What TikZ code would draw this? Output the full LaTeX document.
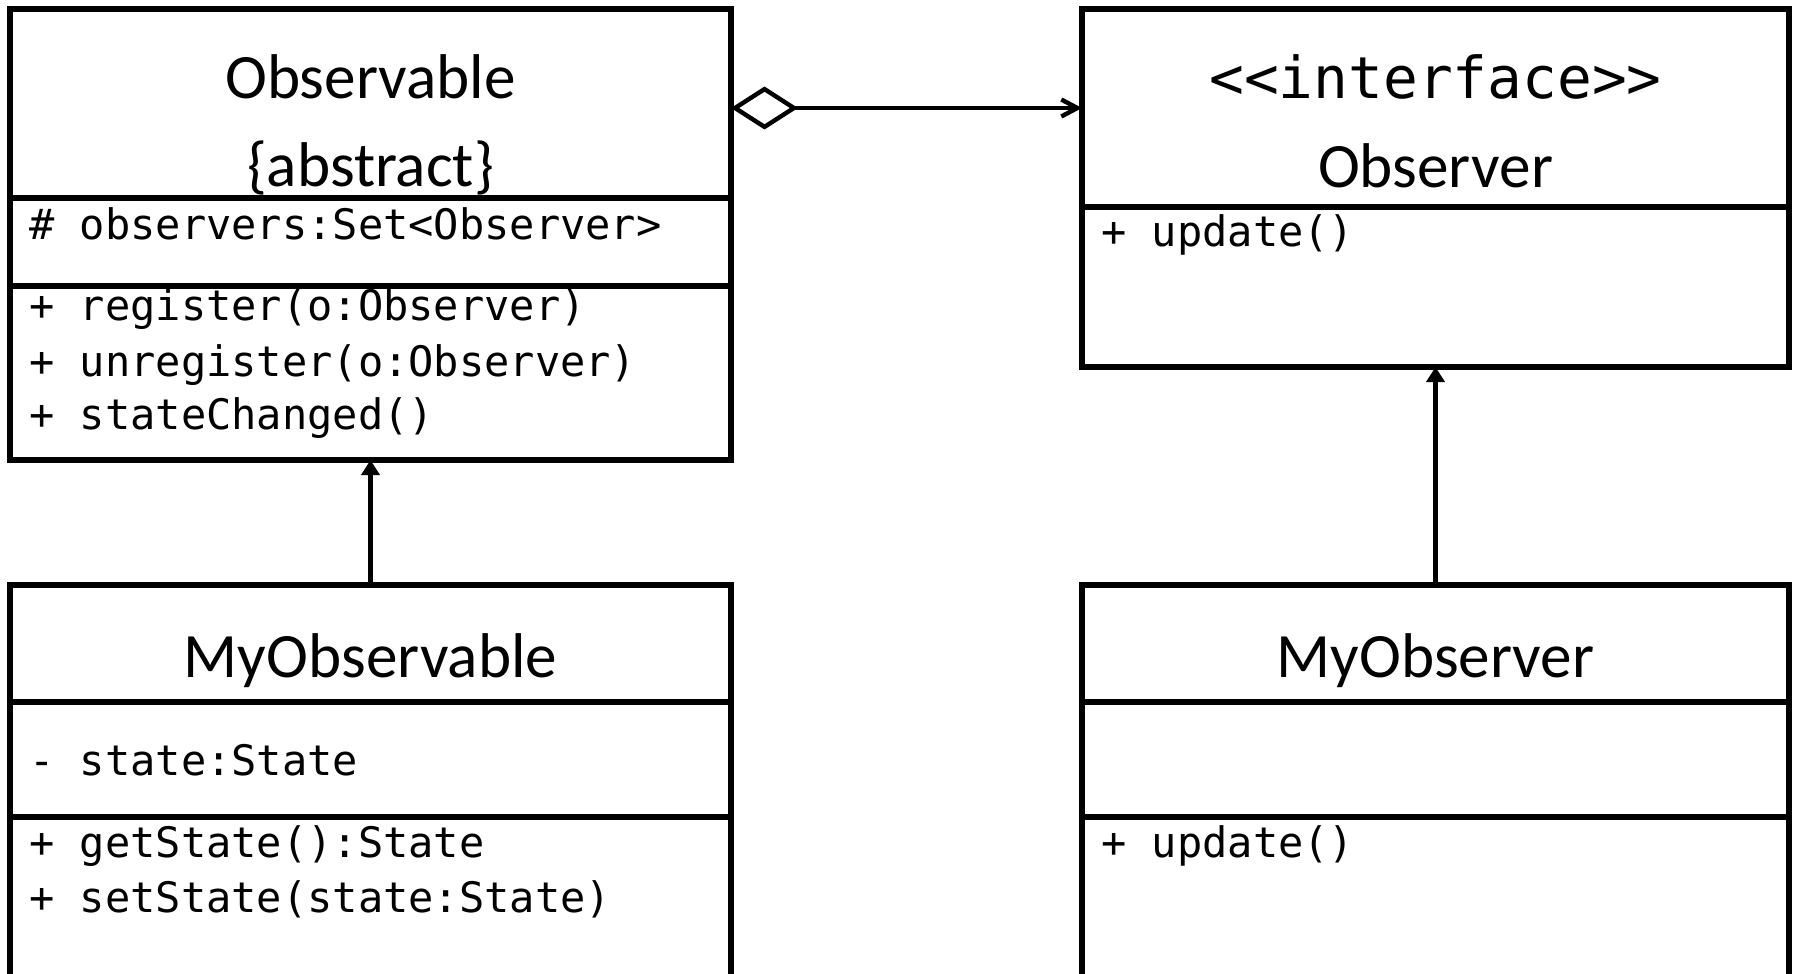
\documentclass[tikz,border=0pt]{standalone}
\usepackage{fontspec}
\setmainfont{Carlito}
\setmonofont{DejaVu Sans Mono}
\usetikzlibrary{arrows.meta}
\usetikzlibrary{fit}

\tikzset{
  classbox/.style={draw, line width=2.6pt, inner sep=0pt, outer sep=0pt},
  divider/.style={line width=2.6pt},
  classname/.style={anchor=base, inner sep=0pt, font=\fontsize{31.6}{38}\selectfont},
  stereotype/.style={anchor=base, inner sep=0pt, font=\fontsize{28.9}{35}\selectfont\ttfamily},
  member/.style={anchor=base west, inner sep=0pt, font=\fontsize{21}{25}\selectfont\ttfamily},
  aggregation/.style={line width=2.2pt, {Diamond[open,length=33.5pt,width=21.5pt]}-{Straight Barb[length=8pt,width=8.5pt]}},
  generalization/.style={line width=2.6pt, -{Triangle[length=7.5pt,width=9pt]}},
}

\begin{document}
\begin{tikzpicture}[x=0.5pt,y=0.5pt,yscale=-1,xscale=1]
\useasboundingbox (0,0) rectangle (1799,974);
\clip (0,0) rectangle (1799,974);

% class boxes
\node[classbox, fit={(10,9) (731,460)}] (observable) {};
\node[classbox, fit={(1082,9) (1789,367)}] (observer) {};
\node[classbox, fit={(10,585) (731,1010)}] (myobservable) {};
\node[classbox, fit={(1082,585) (1789,1010)}] (myobserver) {};

% compartments
\draw[divider] (observable.west |- 0,198) -- (observable.east |- 0,198);
\draw[divider] (observable.west |- 0,286) -- (observable.east |- 0,286);
\draw[divider] (observer.west |- 0,207) -- (observer.east |- 0,207);
\draw[divider] (myobservable.west |- 0,702) -- (myobservable.east |- 0,702);
\draw[divider] (myobservable.west |- 0,817) -- (myobservable.east |- 0,817);
\draw[divider] (myobserver.west |- 0,702) -- (myobserver.east |- 0,702);
\draw[divider] (myobserver.west |- 0,817) -- (myobserver.east |- 0,817);

% Observable
\node[classname] (observable-name) at (370.5,98.5) {Observable};
\node[classname] (observable-abstract) at (370.5,186) {\{abstract\}};
\node[member] (observable-attr) at (29,239) {\# observers:Set<Observer>};
\node[member] (observable-reg) at (29,320) {+ register(o:Observer)};
\node[member] (observable-unreg) at (29,376) {+ unregister(o:Observer)};
\node[member] (observable-changed) at (29,429) {+ stateChanged()};

% Observer
\node[stereotype] (observer-stereo) at (1435.5,98.5) {<<interface>>};
\node[classname] (observer-name) at (1435.5,187) {Observer};
\node[member] (observer-update) at (1101,246) {+ update()};

% MyObservable
\node[classname] (myobservable-name) at (370.5,677) {MyObservable};
\node[member] (myobservable-state) at (29,775) {- state:State};
\node[member] (myobservable-get) at (29,857) {+ getState():State};
\node[member] (myobservable-set) at (29,912) {+ setState(state:State)};

% MyObserver
\node[classname] (myobserver-name) at (1435.5,677) {MyObserver};
\node[member] (myobserver-update) at (1101,857) {+ update()};

% relations
\draw[aggregation] (observable.east |- 0,108) -- (observer.west |- 0,108);
\draw[generalization] (myobservable.north) -- (observable.south);
\draw[generalization] (myobserver.north) -- (observer.south);
\end{tikzpicture}
\end{document}
